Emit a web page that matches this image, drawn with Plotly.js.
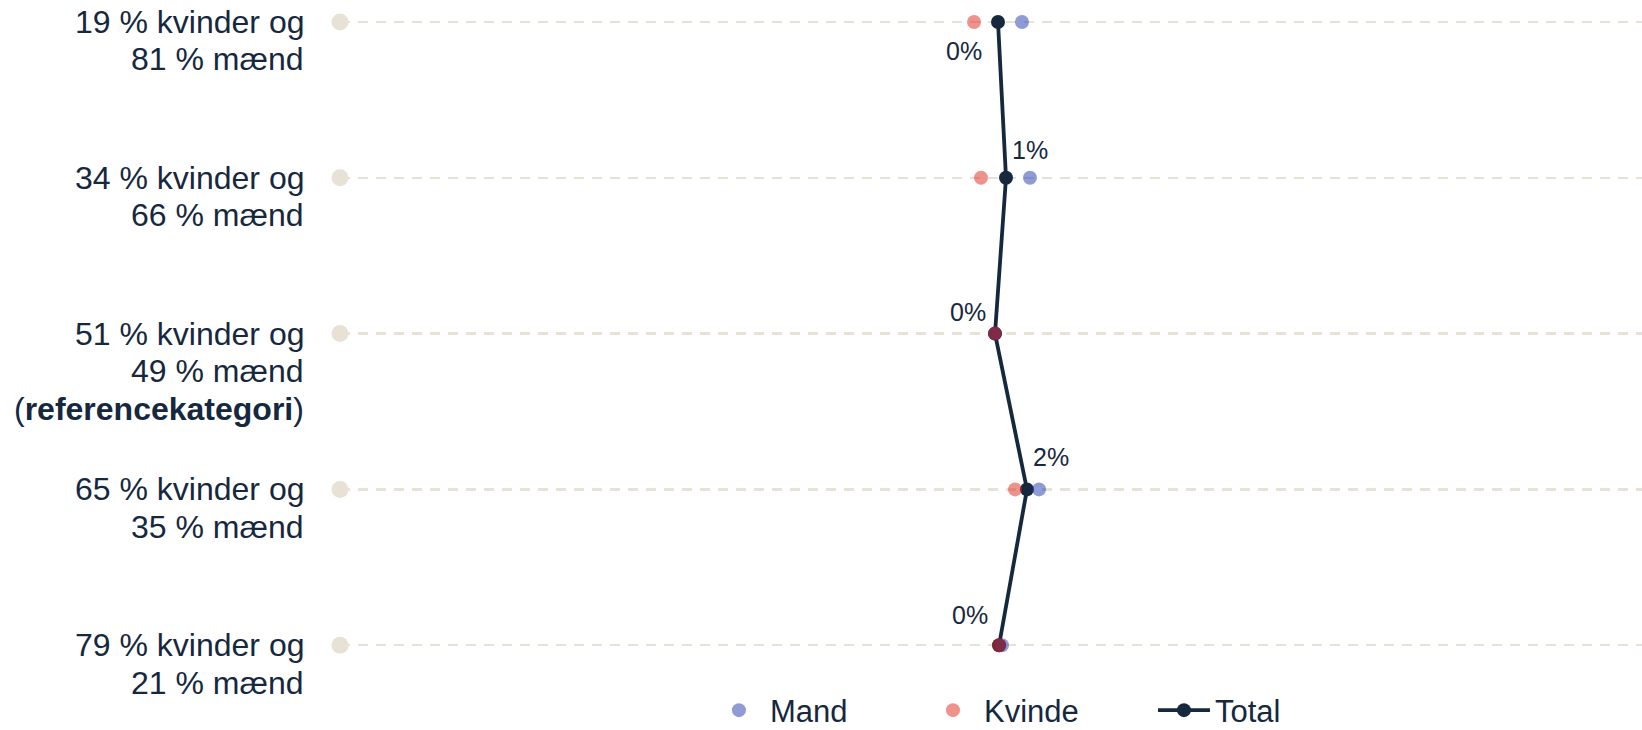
<!DOCTYPE html>
<html>
<head>
<meta charset="utf-8">
<script src="https://cdn.plot.ly/plotly-3.0.1.min.js"></script>
<style>
  html, body { margin: 0; padding: 0; background: #ffffff; }
  #chart { width: 1642px; height: 730px; }
</style>
</head>
<body>
<div id="chart"></div>
<script>
// ---- data ----
var categories = [
  "19 % kvinder og<br>81 % mænd",
  "34 % kvinder og<br>66 % mænd",
  "51 % kvinder og<br>49 % mænd<br>(<b>referencekategori</b>)",
  "65 % kvinder og<br>35 % mænd",
  "79 % kvinder og<br>21 % mænd"
];
var totalValues  = [0.23, 0.84, 0.0, 2.44, 0.31];
var mandValues   = [2.06, 2.67, 0.0, 3.36, 0.53];
var kvindeValues = [-1.60, -1.07, 0.0, 1.53, 0.31];
var axisMin = -50;
var seriesNames = ["Mand", "Kvinde", "Total"];

// ---- style ----
var navy = "#16283e";
var font = "Liberation Sans, Arial, Helvetica, sans-serif";
var labelShift = [[-34, -29], [24, 28], [-27, 22], [24, 32], [-29, 30]];

var guideX = categories.map(function () { return axisMin; });

var traces = [
  {
    x: guideX, y: categories, type: "scatter", mode: "markers",
    marker: { color: "#e8e2d6", size: 17 },
    showlegend: false, hoverinfo: "skip", cliponaxis: false
  },
  {
    x: totalValues, y: categories, type: "scatter", mode: "lines+markers",
    name: seriesNames[2], legend: "legend3",
    line: { color: navy, width: 3.8 },
    marker: { color: navy, size: 14 },
    cliponaxis: false
  },
  {
    x: mandValues, y: categories, type: "scatter", mode: "markers",
    name: seriesNames[0], legend: "legend",
    marker: { color: "rgba(31,55,169,0.5)", size: 14 },
    cliponaxis: false
  },
  {
    x: kvindeValues, y: categories, type: "scatter", mode: "markers",
    name: seriesNames[1], legend: "legend2",
    marker: { color: "rgba(223,37,25,0.5)", size: 14 },
    cliponaxis: false
  }
];

var annotations = [];
categories.forEach(function (lab, i) {
  var lines = lab.split("<br>");
  lines.forEach(function (ln, j) {
    annotations.push({
      xref: "paper", yref: "y", x: 0, y: i,
      xanchor: "right", yanchor: "middle",
      xshift: -34, yshift: -j * 37.5,
      text: ln, showarrow: false,
      font: { family: font, size: 32, color: navy }
    });
  });
  annotations.push({
    xref: "x", yref: "y", x: totalValues[i], y: i,
    xanchor: "center", yanchor: "middle",
    xshift: labelShift[i][0], yshift: labelShift[i][1],
    text: Math.round(totalValues[i]) + "%", showarrow: false,
    font: { family: font, size: 25, color: navy }
  });
});

function legendAt(xp) {
  return {
    orientation: "h", x: xp, xanchor: "left", y: -0.0103, yanchor: "bottom",
    font: { family: font, size: 31, color: navy },
    itemwidth: 52, bgcolor: "rgba(0,0,0,0)", borderwidth: 0
  };
}

var layout = {
  width: 1642, height: 730,
  margin: { l: 340, r: 0, t: 0, b: 0, pad: 0, autoexpand: false },
  paper_bgcolor: "#ffffff", plot_bgcolor: "#ffffff",
  font: { family: font, color: navy },
  xaxis: {
    range: [-50, 49.39], visible: false, showgrid: false, zeroline: false, fixedrange: true
  },
  yaxis: {
    type: "category", categoryarray: categories, categoryorder: "array",
    range: [4.544, -0.141], showticklabels: false, ticks: "",
    showgrid: true, gridcolor: "#e8e2d6", gridwidth: 2.5, griddash: "10px,8px",
    zeroline: false, showline: false, fixedrange: true
  },
  showlegend: true,
  legend: legendAt(0.2826),
  legend2: legendAt(0.4470),
  legend3: legendAt(0.6244),
  annotations: annotations
};

Plotly.newPlot("chart", traces, layout, { displayModeBar: false, staticPlot: true });
</script>
</body>
</html>
